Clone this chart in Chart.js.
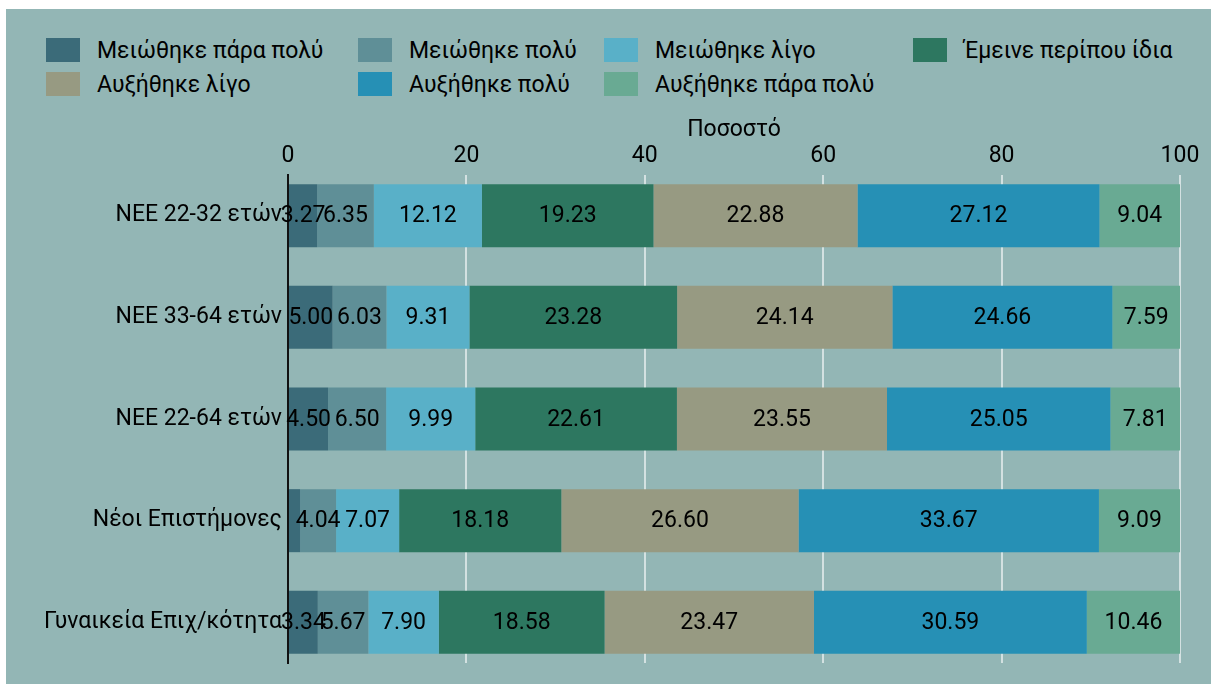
<!DOCTYPE html>
<html>
<head>
<meta charset="utf-8">
<script src="https://cdn.jsdelivr.net/npm/chart.js@4.4.0/dist/chart.umd.min.js"></script>
<style>
  body { margin: 0; background: #fff; width: 1211px; height: 684px; overflow: hidden; position: relative; }
  #panel { position: absolute; left: 6px; top: 9px; width: 1205px; height: 675px; background: #93b6b5; }
  #legend { position: absolute; left: 46px; top: 38px; display: grid; grid-template-columns: 312px 246px 309px auto; row-gap: 10px; font-family: Roboto, sans-serif; font-size: 23px; color: #000; }
  .item { display: flex; align-items: center; height: 24px; }
  .box { width: 34px; height: 24px; margin-right: 17px; }
  #myChart { position: absolute; left: 0; top: 0; }
</style>
</head>
<body>
<div id="panel"></div>
<div id="legend"></div>
<canvas id="myChart" width="1211" height="684"></canvas>
<script>
Chart.defaults.font.family = 'Roboto';
Chart.defaults.font.size = 23;
Chart.defaults.color = '#000';

let categories = [
    'ΝΕΕ 22-32 ετών',
    'ΝΕΕ 33-64 ετών',
    'ΝΕΕ 22-64 ετών',
    'Νέοι Επιστήμονες',
    'Γυναικεία Επιχ/κότητα'
];
let seriesNames = [
    'Μειώθηκε πάρα πολύ',
    'Μειώθηκε πολύ',
    'Μειώθηκε λίγο',
    'Έμεινε περίπου ίδια',
    'Αυξήθηκε λίγο',
    'Αυξήθηκε πολύ',
    'Αυξήθηκε πάρα πολύ'
];
let colors = ['#3b6b79', '#5f8f97', '#59b0c8', '#2d7760', '#979a82', '#2690b5', '#69aa93'];

// percentages per group, one array per answer
let decreasedVeryMuch = [3.27, 5.00, 4.50, 1.35, 3.34];
let decreasedMuch     = [6.35, 6.03, 6.50, 4.04, 5.67];
let decreasedLittle   = [12.12, 9.31, 9.99, 7.07, 7.90];
let aboutSame         = [19.23, 23.28, 22.61, 18.18, 18.58];
let increasedLittle   = [22.88, 24.14, 23.55, 26.60, 23.47];
let increasedMuch     = [27.12, 24.66, 25.05, 33.67, 30.59];
let increasedVeryMuch = [9.04, 7.59, 7.81, 9.09, 10.46];

let xTicks = [0, 20, 40, 60, 80, 100];

let allSeries = [decreasedVeryMuch, decreasedMuch, decreasedLittle, aboutSame,
                 increasedLittle, increasedMuch, increasedVeryMuch];

// y is a linear index scale so the rows can sit a bit inside the plot edges
let datasets = allSeries.map((values, i) => ({
    label: seriesNames[i],
    data: values.map((v, j) => ({ x: v, y: j })),
    backgroundColor: colors[i],
    borderWidth: 0,
    barPercentage: 0.62,
    categoryPercentage: 1
}));

// legend laid out as a 4-column grid
let legendEl = document.getElementById('legend');
seriesNames.forEach((name, i) => {
    let item = document.createElement('div');
    item.className = 'item';
    item.innerHTML = '<span class="box" style="background:' + colors[i] + '"></span><span>' + name + '</span>';
    legendEl.appendChild(item);
});

// write the value in the middle of each segment
const valueLabels = {
    id: 'valueLabels',
    afterDatasetsDraw(chart) {
        const ctx = chart.ctx;
        ctx.save();
        ctx.font = '23px Roboto';
        ctx.fillStyle = '#000';
        ctx.textAlign = 'center';
        ctx.textBaseline = 'middle';
        chart.data.datasets.forEach((ds, i) => {
            chart.getDatasetMeta(i).data.forEach((bar, j) => {
                const v = ds.data[j].x;
                if (v < 2) return;
                ctx.fillText(v.toFixed(2), (bar.x + bar.base) / 2, bar.y + 1);
            });
        });
        ctx.restore();
    }
};

let chart = new Chart(document.getElementById('myChart'), {
    type: 'bar',
    data: { datasets: datasets },
    options: {
        indexAxis: 'y',
        responsive: false,
        animation: false,
        layout: { padding: { left: 0, right: 31, top: 115, bottom: 21 } },
        plugins: { legend: { display: false }, tooltip: { enabled: false } },
        scales: {
            x: {
                type: 'linear',
                position: 'top',
                stacked: true,
                min: 0,
                max: 100,
                afterBuildTicks: (scale) => { scale.ticks = xTicks.map(v => ({ value: v })); },
                afterFit: (scale) => { scale.height = 60; },
                ticks: { padding: 5 },
                title: { display: true, text: 'Ποσοστό', padding: { top: 1, bottom: 0 } },
                grid: {
                    drawTicks: false,
                    lineWidth: 2,
                    color: (c) => c.tick && c.tick.value === 0 ? 'rgba(0,0,0,0)' : 'rgba(228,236,236,0.8)'
                },
                border: { display: false }
            },
            y: {
                type: 'linear',
                stacked: true,
                reverse: true,
                offset: false,
                min: -0.4,
                max: categories.length - 0.6,
                afterBuildTicks: (scale) => { scale.ticks = categories.map((c, j) => ({ value: j })); },
                afterFit: (scale) => { scale.width = 288; },
                ticks: { padding: 6, callback: (v) => categories[v] },
                grid: { display: false, drawTicks: false, offset: false },
                border: { color: '#111', width: 2 }
            }
        }
    },
    plugins: [valueLabels]
});
</script>
</body>
</html>
